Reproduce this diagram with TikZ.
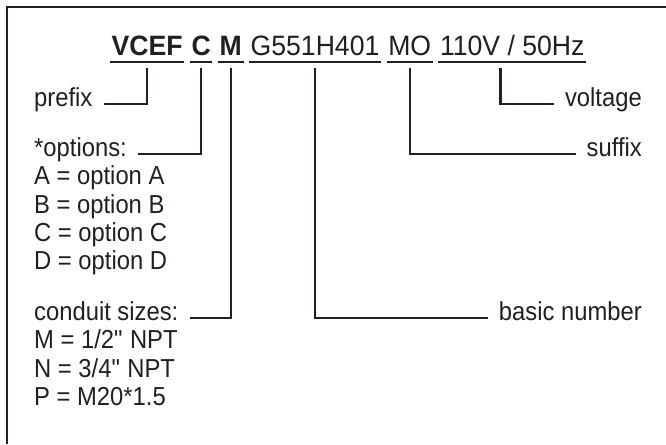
\documentclass[tikz,border=0pt]{standalone}
\usepackage{fontspec}
\setmainfont{Liberation Sans}
\newfontfamily\codefont[FakeStretch=0.95]{Liberation Sans}
\newfontfamily\notefont[FakeStretch=0.915]{Liberation Sans}
\usetikzlibrary{positioning}
\usetikzlibrary{calc}
\definecolor{ink}{HTML}{231F20}
\tikzset{
  part/.style={inner xsep=1.5pt, inner ysep=0pt, text=ink,
    font=\codefont\fontsize{28}{30}\selectfont},
  desc/.style={inner sep=0pt, text=ink, font=\notefont\fontsize{26}{28}\selectfont},
  bar/.style={ink, line width=2.3pt},
  link/.style={ink, line width=2.3pt},
}

\begin{document}
\begin{tikzpicture}[x=1pt, y=-1pt]
    \useasboundingbox (0,0) rectangle (666,444);

    % frame, only the top and left edges show
    \draw[ink, line width=2pt] (7,444) -- (7,7) -- (666,7);

    % model code
    \node[part, anchor=base west] (vcef) at (110,56) {\bfseries VCEF};
    \node[part, base right=5.5pt of vcef] (opt) {\bfseries C};
    \node[part, base right=5.5pt of opt] (cond) {\bfseries M};
    \node[part, base right=5.5pt of cond] (basic) {G551H401};
    \node[part, base right=5.5pt of basic] (suf) {MO};
    \node[part, base right=5.5pt of suf] (volt) {110V / 50Hz};

    \foreach \p in {vcef, opt, cond, basic, suf, volt}
      \draw[bar] ([yshift=-6pt]\p.base west) -- ([yshift=-6pt]\p.base east);

    % left hand notes
    \node[desc, anchor=mid west] (prefix) at (34,104) {prefix};
    \node[desc, anchor=mid west] (options) at (34,154) {*options:};
    \foreach \l [count=\i] in {A,B,C,D}
      \node[desc, anchor=mid west] (opt\l) at (34,{154+28.3*\i}) {\l{} = option \l};
    \node[desc, anchor=mid west] (sizes) at (34,318) {conduit sizes:};
    \node[desc, anchor=mid west] (sizeM) at (34,346.3) {M = 1/2\textquotedbl{} NPT};
    \node[desc, anchor=mid west] (sizeN) at (34,374.6) {N = 3/4\textquotedbl{} NPT};
    \node[desc, anchor=mid west] (sizeP) at (34,402.9) {P = M20*1.5};

    % right hand notes
    \node[desc, anchor=mid east] (voltage) at (642,104) {voltage};
    \node[desc, anchor=mid east] (suffix) at (642,154) {suffix};
    \node[desc, anchor=mid east] (number) at (642,318) {basic number};

    % leaders
    \draw[link] ([yshift=-12pt]vcef.base) |- ([xshift=11pt]prefix.mid east);
    \draw[link] ([yshift=-12pt]opt.base) |- ([xshift=11pt]options.mid east);
    \draw[link] ([yshift=-12pt]cond.base) |- ([xshift=11pt]sizes.mid east);
    \draw[link] ([yshift=-12pt]basic.base) |- ([xshift=-11pt]number.mid west);
    \draw[link] ([yshift=-12pt]suf.base) |- ([xshift=-11pt]suffix.mid west);
    \coordinate (vtap) at ($(volt.base west)!0.42!(volt.base east)$);
    \draw[link] ([yshift=-12pt]vtap) |- ([xshift=-11pt]voltage.mid west);
\end{tikzpicture}
\end{document}
